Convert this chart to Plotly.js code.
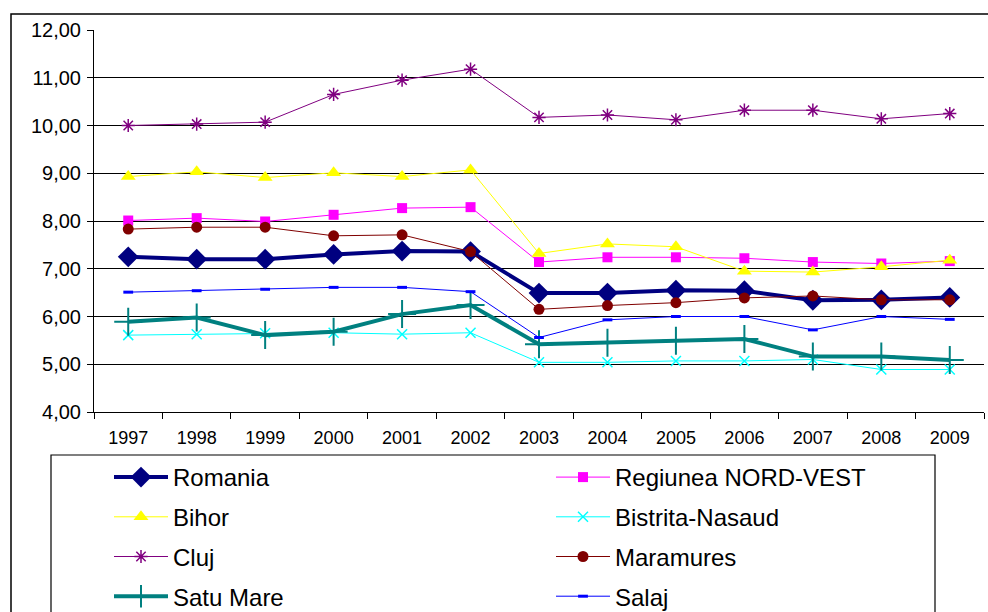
<!DOCTYPE html>
<html>
<head>
<meta charset="utf-8">
<script src="https://cdn.plot.ly/plotly-3.0.1.min.js"></script>
<style>html,body{margin:0;padding:0;background:#fff;}#chart{width:988px;height:612px;}</style>
</head>
<body>
<div id="chart"></div>
<script>
var years = ['1997','1998','1999','2000','2001','2002','2003','2004','2005','2006','2007','2008','2009'];
var romania    = [7.25, 7.20, 7.20, 7.30, 7.37, 7.36, 6.49, 6.49, 6.55, 6.54, 6.34, 6.35, 6.40];
var nordVest   = [8.01, 8.06, 7.99, 8.13, 8.27, 8.29, 7.14, 7.24, 7.24, 7.22, 7.14, 7.11, 7.16];
var bihor      = [8.93, 9.03, 8.91, 9.01, 8.93, 9.07, 7.32, 7.52, 7.46, 6.95, 6.93, 7.04, 7.18];
var bistrita   = [5.61, 5.63, 5.65, 5.66, 5.63, 5.66, 5.04, 5.04, 5.07, 5.07, 5.10, 4.89, 4.89];
var cluj       = [10.00, 10.03, 10.07, 10.65, 10.95, 11.18, 10.17, 10.22, 10.12, 10.32, 10.32, 10.14, 10.25];
var maramures  = [7.83, 7.87, 7.87, 7.69, 7.71, 7.36, 6.15, 6.23, 6.29, 6.39, 6.43, 6.35, 6.35];
var satuMare   = [5.89, 5.98, 5.61, 5.68, 6.05, 6.24, 5.42, 5.45, 5.49, 5.53, 5.16, 5.16, 5.09];
var salaj      = [6.51, 6.54, 6.57, 6.61, 6.61, 6.52, 5.56, 5.93, 6.00, 6.00, 5.72, 6.00, 5.94];

function tr(name, y, color, lw, sym, size, mlw, leg, grp) {
  return {
    x: years, y: y, name: name, type: 'scatter', mode: 'lines+markers',
    line: {color: color, width: lw},
    marker: {symbol: sym, size: size, color: color, line: {color: color, width: mlw}},
    legend: leg, legendgroup: grp
  };
}

var data = [
  tr('Romania', romania, '#000080', 4, 'diamond', 16, 0, 'legend', 'g1'),
  tr('Regiunea NORD-VEST', nordVest, '#FF00FF', 1, 'square', 10, 0, 'legend2', 'g1'),
  tr('Bihor', bihor, '#FFFF00', 1, 'triangle-up', 13, 0, 'legend', 'g2'),
  tr('Bistrita-Nasaud', bistrita, '#00FFFF', 1, 'x-thin-open', 10, 1.5, 'legend2', 'g2'),
  tr('Cluj', cluj, '#800080', 1, 'asterisk-open', 11, 1.5, 'legend', 'g3'),
  tr('Maramures', maramures, '#800000', 1, 'circle', 11, 0, 'legend2', 'g3'),
  tr('Satu Mare', satuMare, '#008080', 4, 'cross-thin-open', 20, 2, 'legend', 'g4'),
  tr('Salaj', salaj, '#0000FF', 1, 'line-ew-open', 7, 3, 'legend2', 'g4')
];

var W = 890, H = 382, L = 94, T = 30, FW = 988, FH = 612;
function px(x){ return (x - L) / W; }
function py(y){ return (T + H - y) / H; }

var legCommon = {
  bgcolor: 'rgba(0,0,0,0)', borderwidth: 0, orientation: 'v',
  font: {family: 'Arial, Liberation Sans, sans-serif', size: 24, color: '#000'},
  tracegroupgap: 5.5, xanchor: 'left', yanchor: 'top', traceorder: 'grouped',
  itemwidth: 54
};

var layout = {
  width: FW, height: FH,
  margin: {l: L, r: FW - L - W, t: T, b: FH - T - H, pad: 0, autoexpand: false},
  paper_bgcolor: '#fff', plot_bgcolor: '#fff',
  separators: ',.',
  font: {family: 'Arial, Liberation Sans, sans-serif', color: '#000'},
  showlegend: true,
  xaxis: {
    type: 'category', range: [-0.5, 12.5], tickson: 'boundaries', ticks: 'outside', ticklen: 6, tickcolor: '#000',
    showline: true, linecolor: '#000', linewidth: 1, showgrid: false, zeroline: false,
    tickfont: {size: 18}, tickangle: 0, ticklabelstandoff: 9, fixedrange: true, automargin: false
  },
  yaxis: {
    range: [4, 12], dtick: 1, tick0: 4, tickformat: '.2f', ticks: 'outside', ticklen: 6, tickcolor: '#000',
    showline: true, linecolor: '#000', linewidth: 1, showgrid: true, gridcolor: '#000', gridwidth: 1,
    zeroline: false, tickfont: {size: 20}, ticklabelstandoff: 2, fixedrange: true, automargin: false
  },
  legend: Object.assign({}, legCommon, {x: px(109), y: py(455)}),
  legend2: Object.assign({}, legCommon, {x: px(551), y: py(455)}),
  shapes: [
    {type: 'rect', xref: 'paper', yref: 'paper', x0: px(11), x1: px(1100), y0: py(14), y1: py(800),
     line: {color: '#000', width: 1.5}, fillcolor: 'rgba(0,0,0,0)', layer: 'below'},
    {type: 'rect', xref: 'paper', yref: 'paper', x0: px(51), x1: px(935), y0: py(455), y1: py(800),
     line: {color: '#000', width: 1.2}, fillcolor: 'rgba(0,0,0,0)', layer: 'below'}
  ]
};

Plotly.newPlot('chart', data, layout, {displayModeBar: false, staticPlot: true});
</script>
</body>
</html>
